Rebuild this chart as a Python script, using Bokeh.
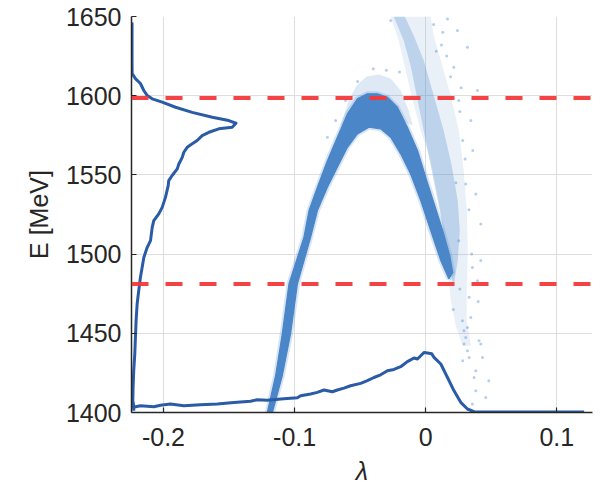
from bokeh.plotting import figure
from bokeh.models import Range1d, FixedTicker, Span
from bokeh.embed import file_html
from bokeh.resources import INLINE

# ---------------- data ----------------
x_ticks = [-0.2, -0.1, 0.0, 0.1]
y_ticks = [1400, 1450, 1500, 1550, 1600, 1650]
cut_E = [1598.6, 1481.1]

# energy projection (drawn against the lambda axis, on the left)
left_hist_x = [-0.2240, -0.2240, -0.2239, -0.2214, -0.2176, -0.2150, -0.2124, -0.2086, -0.2010, -0.1908,
               -0.1781, -0.1628, -0.1502, -0.1447, -0.1476, -0.1578, -0.1654, -0.1705, -0.1743, -0.1781,
               -0.1819, -0.1845, -0.1857, -0.1883, -0.1895, -0.1934, -0.1960, -0.1964, -0.1985, -0.2010,
               -0.2036, -0.2074, -0.2086, -0.2099, -0.2124, -0.2150, -0.2163, -0.2176, -0.2189, -0.2201,
               -0.2209, -0.2214, -0.2219, -0.2227, -0.2232, -0.2234, -0.2227, -0.2227]
left_hist_E = [1646.2, 1622.2, 1614.0, 1610.8, 1607.7, 1603.3, 1600.1, 1598.0, 1595.9, 1592.7,
               1589.5, 1586.4, 1584.3, 1582.6, 1580.1, 1579.1, 1576.9, 1574.8, 1571.7, 1569.6,
               1567.4, 1564.3, 1561.1, 1556.9, 1553.8, 1549.6, 1546.4, 1543.2, 1535.8, 1529.5,
               1525.4, 1521.1, 1516.9, 1508.5, 1504.3, 1497.9, 1491.6, 1485.3, 1476.9, 1468.5,
               1458.0, 1447.4, 1436.9, 1426.4, 1415.8, 1407.4, 1404.3, 1401.1]

# lambda projection (drawn against the energy axis, at the bottom)
bottom_hist_x = [-0.2239, -0.2176, -0.2074, -0.2023, -0.1947, -0.1845, -0.1718, -0.1590, -0.1463, -0.1336,
                 -0.1285, -0.1208, -0.1082, -0.0979, -0.0954, -0.0878, -0.0827, -0.0776, -0.0712, -0.0674,
                 -0.0624, -0.0573, -0.0496, -0.0445, -0.0395, -0.0344, -0.0292, -0.0242, -0.0191, -0.0140,
                 -0.0089, -0.0063, -0.0038, -0.0013, 0.0013, 0.0046, 0.0063, 0.0115, 0.0166, 0.0216,
                 0.0267, 0.0318, 0.0369, 0.0445, 0.1208]
bottom_hist_E = [1403.2, 1404.3, 1403.6, 1404.6, 1405.3, 1404.3, 1404.9, 1405.3, 1406.3, 1407.1,
                 1408.1, 1407.7, 1408.7, 1409.3, 1410.6, 1411.7, 1412.7, 1414.2, 1413.1, 1414.2,
                 1415.4, 1416.9, 1418.4, 1420.1, 1422.1, 1423.8, 1426.4, 1427.2, 1428.9, 1432.1,
                 1434.4, 1433.8, 1435.8, 1437.9, 1437.6, 1437.1, 1434.8, 1430.6, 1422.1, 1413.7,
                 1406.4, 1402.2, 1400.5, 1400.3, 1400.3]

# dense main band of particles (outline: outer edge, then inner edge back)
band_x = [-0.1208, -0.1145, -0.1094, -0.1043, -0.0929, -0.0890, -0.0826, -0.0750, -0.0674, -0.0597,
          -0.0521, -0.0445, -0.0369, -0.0292, -0.0216, -0.0140, -0.0063, 0.0008, 0.0069, 0.0130,
          0.0183, 0.0206, 0.0176,
          0.0115, 0.0038, -0.0038, -0.0115, -0.0191, -0.0267, -0.0344, -0.0433, -0.0521, -0.0597,
          -0.0674, -0.0750, -0.0826, -0.0878, -0.0979, -0.1031, -0.1094, -0.1170]
band_E = [1400.0, 1423.2, 1449.6, 1481.1, 1510.6, 1527.5, 1542.2, 1559.0, 1573.8, 1588.5,
          1598.0, 1601.2, 1601.2, 1599.0, 1592.7, 1580.1, 1565.4, 1546.4, 1530.6, 1514.8,
          1499.0, 1488.3, 1484.5,
          1495.9, 1514.8, 1533.8, 1550.6, 1563.3, 1573.8, 1579.1, 1580.1, 1575.9, 1567.4,
          1554.8, 1542.2, 1527.5, 1510.6, 1481.1, 1449.6, 1423.2, 1400.0]

# sparse halo above the band's top
halo_x = [-0.0649, -0.0588, -0.0527, -0.0450, -0.0359, -0.0267, -0.0191, -0.0130, -0.0099, -0.0344, -0.0573]
halo_E = [1581.1, 1596.9, 1606.4, 1612.1, 1613.4, 1610.8, 1603.3, 1590.6, 1581.1, 1590.6, 1584.3]

# second (sparse) branch: core streak and wider diffuse region
branch_core_x = [-0.0244, -0.0168, -0.0115, -0.0069, -0.0023, 0.0023, 0.0069, 0.0115, 0.0153, 0.0183,
                 0.0214,
                 0.0244, 0.0260, 0.0244, 0.0198, 0.0137, 0.0061, -0.0015, -0.0092, -0.0160]
branch_core_E = [1650.0, 1634.8, 1619.0, 1600.1, 1581.1, 1562.2, 1543.2, 1524.3, 1505.3, 1489.5,
                 1480.1,
                 1495.9, 1514.8, 1533.8, 1555.9, 1578.0, 1600.1, 1622.2, 1638.0, 1650.0]
branch_wide_x = [-0.0267, -0.0206, -0.0153, -0.0099, -0.0038, 0.0038, 0.0099, 0.0145, 0.0168, 0.0191,
                 0.0229, 0.0282, 0.0344, 0.0313, 0.0313, 0.0321, 0.0313, 0.0290, 0.0252, 0.0191,
                 0.0115, 0.0060, 0.0038]
branch_wide_E = [1650.0, 1634.8, 1615.9, 1596.9, 1578.0, 1559.0, 1533.8, 1508.5, 1489.5, 1470.6,
                 1454.8, 1442.2, 1442.2, 1458.0, 1476.9, 1502.2, 1527.5, 1552.7, 1578.0, 1600.1,
                 1622.2, 1638.0, 1650.0]

# individual stray particles
stray_x = [0.0280, 0.0292, 0.0305, 0.0318, 0.0292, 0.0331, 0.0382, 0.0369, 0.0420, 0.0433,
           0.0407, 0.0382, 0.0458, 0.0356, 0.0318, 0.0344, 0.0395, 0.0331, 0.0356, 0.0420,
           0.0382, 0.0305, -0.0267, 0.0166, 0.0242, 0.0214, 0.0395, 0.0318, 0.0252, 0.0344,
           0.0282, 0.0359, -0.0750, -0.0687, -0.0611, 0.0420, 0.0252, 0.0481, 0.0282,
           0.0130, 0.0080, 0.0190, 0.0260, 0.0300, 0.0230, 0.0160, 0.0270, 0.0330, 0.0210,
           -0.0300, -0.0200, -0.0520, -0.0400, 0.0060, 0.0120, 0.0350, 0.0400, 0.0260]
stray_E = [1458.0, 1451.6, 1447.4, 1439.0, 1443.2, 1434.8, 1426.4, 1422.1, 1443.2, 1434.8,
           1445.3, 1413.7, 1409.5, 1405.3, 1453.7, 1460.0, 1483.2, 1472.7, 1491.6, 1519.0,
           1538.0, 1544.3, 1647.5, 1648.5, 1641.2, 1618.0, 1603.3, 1630.6, 1596.9, 1584.3,
           1571.7, 1565.4, 1573.8, 1584.3, 1596.9, 1495.9, 1508.5, 1420.1, 1432.7,
           1640.0, 1628.0, 1612.0, 1590.0, 1560.0, 1545.0, 1625.0, 1605.0, 1528.0, 1465.0,
           1616.0, 1615.0, 1609.0, 1617.0, 1645.0, 1632.0, 1500.0, 1470.0, 1478.0]

# ---------------- styling ----------------
TXT = "#262626"
FONT = "Liberation Sans"
PT = "#4a86c8"
LINE = "#2a5ba6"
RED = "#f2393a"

p = figure(width=601, height=487, output_backend="svg", toolbar_location=None,
           x_range=Range1d(-0.2244, 0.1272), y_range=Range1d(1400, 1650))
p.min_border_left = 131
p.min_border_right = 9
p.min_border_top = 16
p.min_border_bottom = 75
p.outline_line_color = None
p.background_fill_color = "white"
p.border_fill_color = "white"

for ax in (p.xaxis[0], p.yaxis[0]):
    ax.axis_line_color = TXT
    ax.axis_line_width = 1.5
    ax.major_tick_line_color = TXT
    ax.major_tick_line_width = 1.2
    ax.major_tick_in = 5
    ax.major_tick_out = 0
    ax.minor_tick_line_color = None
    ax.major_label_text_font = FONT
    ax.major_label_text_font_size = "25px"
    ax.major_label_text_color = TXT

p.xaxis.ticker = FixedTicker(ticks=x_ticks)
p.yaxis.ticker = FixedTicker(ticks=y_ticks)
p.xaxis.major_label_overrides = {-0.2: "-0.2", -0.1: "-0.1", 0.0: "0", 0.1: "0.1"}
p.xaxis.major_label_standoff = 15
p.yaxis.major_label_standoff = 10

p.xaxis.axis_label = "λ"
p.xaxis.axis_label_text_font = FONT
p.xaxis.axis_label_text_font_size = "25px"
p.xaxis.axis_label_text_font_style = "italic"
p.xaxis.axis_label_text_color = TXT
p.xaxis.axis_label_standoff = 8

p.yaxis.axis_label = "E [MeV]"
p.yaxis.axis_label_text_font = FONT
p.yaxis.axis_label_text_font_size = "25px"
p.yaxis.axis_label_text_font_style = "normal"
p.yaxis.axis_label_text_color = TXT
p.yaxis.axis_label_standoff = 10

p.grid.grid_line_color = "#dedede"
p.grid.grid_line_width = 1
p.xgrid.ticker = FixedTicker(ticks=x_ticks)
p.ygrid.ticker = FixedTicker(ticks=y_ticks)

# scatter cloud
p.patch(branch_wide_x, branch_wide_E, fill_color=PT, fill_alpha=0.12, line_color=None)
p.patch(branch_core_x, branch_core_E, fill_color=PT, fill_alpha=0.28, line_color=None)
p.patch(halo_x, halo_E, fill_color=PT, fill_alpha=0.18, line_color=None)
p.patch(band_x, band_E, fill_color=None, line_color=PT, line_width=5, line_alpha=0.22)
p.patch(band_x, band_E, fill_color=PT, fill_alpha=1.0, line_color=PT, line_width=1.2)
p.scatter(stray_x, stray_E, size=3, color=PT, alpha=0.4, line_color=None)

# projections
p.line(left_hist_x, left_hist_E, line_color=LINE, line_width=3, line_join="round")
p.line(bottom_hist_x, bottom_hist_E, line_color=LINE, line_width=3, line_join="round")

# energy cuts
for e in cut_E:
    p.add_layout(Span(location=e, dimension="width", line_color=RED, line_width=4,
                      line_dash="17 17", line_alpha=0.95))

open("out.html", "w").write(file_html(p, INLINE))
